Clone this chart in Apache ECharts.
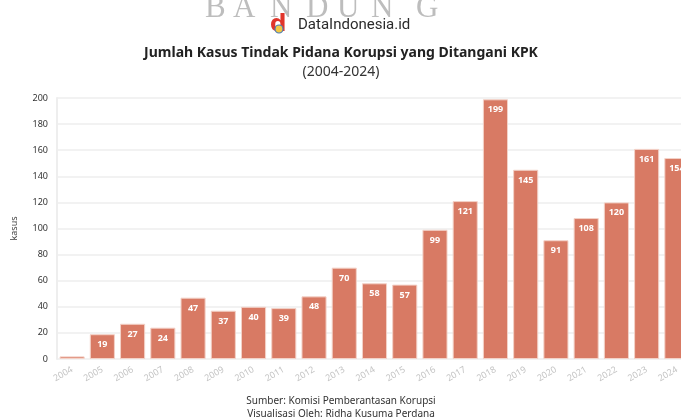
<!DOCTYPE html>
<html>
<head>
<meta charset="utf-8">
<script src="https://cdn.jsdelivr.net/npm/echarts@6/dist/echarts.min.js"></script>
<style>
  html, body { margin: 0; padding: 0; background: #fff; overflow: hidden; width: 681px; height: 420px; }
  /* plot runs past the right edge in the original, so the canvas is wider than the window */
  #chart { width: 692px; height: 420px; }
</style>
</head>
<body>
<div id="chart"></div>
<script>
var years = ['2004', '2005', '2006', '2007', '2008', '2009', '2010', '2011', '2012', '2013', '2014',
    '2015', '2016', '2017', '2018', '2019', '2020', '2021', '2022', '2023', '2024'];
var kasus = [2, 19, 27, 24, 47, 37, 40, 39, 48, 70, 58, 57, 99, 121, 199, 145, 91, 108, 120, 161, 154];
var watermark = ['B', 'A', 'N', 'D', 'U', 'N', 'G'];

// watermark letter x positions (layout only)
var wmX = [205, 233, 270, 306, 337, 371, 416];
var midX = 341;

var chart = echarts.init(document.getElementById('chart'));

var wmGraphics = watermark.map(function (ch, i) {
    return {
        type: 'text',
        x: wmX[i],
        y: -7,
        z: 0,
        style: { text: ch, fill: '#bdbdbd', font: '31px "Liberation Serif", serif' },
        silent: true
    };
});

var option = {
    backgroundColor: '#fff',
    animation: false,
    graphic: wmGraphics.concat([
        {
            type: 'text',
            left: 270,
            top: 14,
            z: 5,
            style: { text: 'd', fill: '#e0352b', font: 'bold 23px "DejaVu Sans", sans-serif' }
        },
        {
            type: 'circle',
            z: 6,
            shape: { cx: 279, cy: 29, r: 4 },
            style: { fill: '#f3c843', stroke: '#4a7bb5', lineWidth: 1.2 }
        },
        {
            type: 'text',
            x: 298,
            y: 18,
            z: 5,
            style: { text: 'DataIndonesia.id', fill: '#2b2b2b', font: '15px "Roboto", sans-serif' }
        },
        {
            type: 'text',
            x: midX,
            y: 46,
            style: {
                text: 'Jumlah Kasus Tindak Pidana Korupsi yang Ditangani KPK',
                fill: '#222',
                font: 'bold 14px "Noto Sans", sans-serif',
                align: 'center'
            }
        },
        {
            type: 'text',
            x: midX,
            y: 65,
            style: {
                text: '(2004-2024)',
                fill: '#333',
                font: '14px "Noto Sans", sans-serif',
                align: 'center'
            }
        },
        {
            type: 'text',
            x: midX,
            y: 395,
            style: {
                text: 'Sumber: Komisi Pemberantasan Korupsi\nVisualisasi Oleh: Ridha Kusuma Perdana',
                fill: '#333',
                font: '10px "Noto Sans", sans-serif',
                align: 'center',
                lineHeight: 13
            }
        }
    ]),
    grid: { left: 57, right: 0, top: 98, height: 261, containLabel: false },
    xAxis: {
        type: 'category',
        data: years,
        axisLine: { show: false },
        axisTick: { show: false },
        axisLabel: {
            rotate: 30,
            fontSize: 9,
            color: '#c4c4c4',
            fontFamily: 'Noto Sans',
            margin: 10,
            interval: 0,
            hideOverlap: false
        }
    },
    yAxis: {
        type: 'value',
        min: 0,
        max: 200,
        interval: 20,
        name: 'kasus',
        nameLocation: 'middle',
        nameGap: 38,
        nameRotate: 90,
        nameTextStyle: { fontSize: 9, color: '#444', fontFamily: 'Noto Sans' },
        axisLine: { show: true, lineStyle: { color: '#eeeeee', width: 2 } },
        axisTick: { show: false },
        axisLabel: { fontSize: 9, color: '#333', fontFamily: 'Noto Sans', margin: 9 },
        splitLine: { lineStyle: { color: '#eeeeee', width: 1.5 } }
    },
    series: [{
        type: 'bar',
        data: kasus,
        barCategoryGap: '17%',
        itemStyle: {
            color: '#d87a64',
            borderColor: '#f3d2c8',
            borderWidth: 1
        },
        label: {
            show: true,
            position: 'insideTop',
            distance: 6,
            color: '#fff',
            fontSize: 9,
            fontWeight: 'bold',
            fontFamily: 'Noto Sans'
        }
    }]
};

chart.setOption(option);
</script>
</body>
</html>
